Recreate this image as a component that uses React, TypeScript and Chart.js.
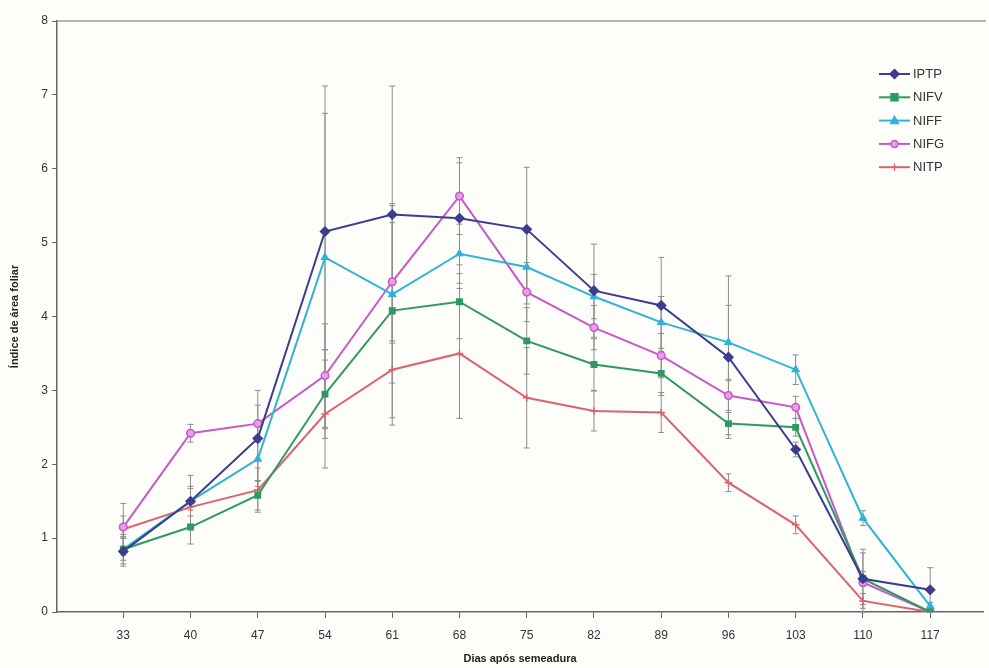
import React, { useEffect, useRef } from "react";
import { Chart, registerables } from "chart.js";

Chart.register(...registerables);

const days = [33, 40, 47, 54, 61, 68, 75, 82, 89, 96, 103, 110, 117];
const yTicks = [0, 1, 2, 3, 4, 5, 6, 7, 8];

const iptp = [0.82, 1.5, 2.35, 5.15, 5.38, 5.33, 5.18, 4.35, 4.15, 3.45, 2.2, 0.45, 0.3];
const iptpErr = [0.2, 0.2, 0.65, 1.6, 1.74, 0.75, 0.84, 0.63, 0.65, 1.1, 0.1, 0.35, 0.3];

const nifv = [0.85, 1.15, 1.58, 2.95, 4.08, 4.2, 3.67, 3.35, 3.23, 2.55, 2.5, 0.45, 0.0];
const nifvErr = [0.15, 0.23, 0.2, 0.6, 1.45, 0.5, 0.45, 0.35, 0.3, 0.15, 0.12, 0.1, 0.02];

const niff = [0.85, 1.5, 2.07, 4.8, 4.3, 4.85, 4.67, 4.27, 3.92, 3.65, 3.28, 1.27, 0.08];
const niffErr = [0.2, 0.35, 0.3, 2.32, 1.2, 0.4, 0.5, 0.3, 0.35, 0.5, 0.2, 0.1, 0.05];

const nifg = [1.15, 2.42, 2.55, 3.2, 4.47, 5.63, 4.33, 3.85, 3.47, 2.93, 2.77, 0.4, 0.0];
const nifgErr = [0.15, 0.12, 0.25, 0.7, 0.8, 0.52, 0.4, 0.3, 0.3, 0.2, 0.15, 0.45, 0.02];

const nitp = [1.12, 1.42, 1.65, 2.68, 3.28, 3.5, 2.9, 2.72, 2.7, 1.75, 1.18, 0.15, 0.0];
const nitpErr = [0.35, 0.25, 0.3, 0.73, 0.75, 0.88, 0.68, 0.27, 0.27, 0.12, 0.12, 0.1, 0.02];

const seriesNames = ["IPTP", "NIFV", "NIFF", "NIFG", "NITP"];
const seriesValues = [iptp, nifv, niff, nifg, nitp];
const seriesErrors = [iptpErr, nifvErr, niffErr, nifgErr, nitpErr];
const seriesColors = ["#3b3d8e", "#2f9a60", "#2fb3d6", "#c957c9", "#d9646c"];
const seriesFills = ["#3b3d8e", "#2f9a60", "#2fb3d6", "#e7a0e7", "#d9646c"];
const seriesPoints = ["rectRot", "rect", "triangle", "circle", "cross"];

const FONT = "'Liberation Sans', Arial, sans-serif";

function drawMarker(ctx: CanvasRenderingContext2D, style: string, x: number, y: number, r: number) {
  ctx.beginPath();
  if (style === "rectRot") {
    ctx.moveTo(x, y - r * 1.3);
    ctx.lineTo(x + r * 1.3, y);
    ctx.lineTo(x, y + r * 1.3);
    ctx.lineTo(x - r * 1.3, y);
    ctx.closePath();
    ctx.fill();
    ctx.stroke();
  } else if (style === "rect") {
    ctx.rect(x - r, y - r, 2 * r, 2 * r);
    ctx.fill();
    ctx.stroke();
  } else if (style === "triangle") {
    ctx.moveTo(x, y - r * 1.2);
    ctx.lineTo(x + r * 1.1, y + r * 0.8);
    ctx.lineTo(x - r * 1.1, y + r * 0.8);
    ctx.closePath();
    ctx.fill();
    ctx.stroke();
  } else if (style === "circle") {
    ctx.arc(x, y, r, 0, Math.PI * 2);
    ctx.fill();
    ctx.stroke();
  } else {
    ctx.moveTo(x - r, y);
    ctx.lineTo(x + r, y);
    ctx.moveTo(x, y - r);
    ctx.lineTo(x, y + r);
    ctx.stroke();
  }
}

const errorBarPlugin = {
  id: "errorBars",
  beforeDatasetsDraw(chart: any) {
    const ctx = chart.ctx;
    const yScale = chart.scales.y;
    ctx.save();
    ctx.strokeStyle = "#8d8d8d";
    ctx.lineWidth = 1;
    chart.data.datasets.forEach((ds: any, i: number) => {
      const meta = chart.getDatasetMeta(i);
      const errs = seriesErrors[i];
      meta.data.forEach((pt: any, j: number) => {
        const v = ds.data[j].y;
        const e = errs[j];
        const x = pt.x;
        const yT = yScale.getPixelForValue(v + e);
        const yB = yScale.getPixelForValue(Math.max(0, v - e));
        ctx.beginPath();
        ctx.moveTo(x, yT);
        ctx.lineTo(x, yB);
        ctx.moveTo(x - 3, yT);
        ctx.lineTo(x + 3, yT);
        ctx.moveTo(x - 3, yB);
        ctx.lineTo(x + 3, yB);
        ctx.stroke();
      });
    });
    ctx.restore();
  },
};

const frameLegendPlugin = {
  id: "frameLegend",
  afterDraw(chart: any) {
    const ctx = chart.ctx;
    const a = chart.chartArea;
    ctx.save();
    ctx.strokeStyle = "#9a9a9a";
    ctx.lineWidth = 1.5;
    ctx.beginPath();
    ctx.moveTo(a.left, a.top);
    ctx.lineTo(chart.width - 3, a.top);
    ctx.stroke();

    const x0 = 879;
    const y0 = 74;
    const gap = 23.3;
    chart.data.datasets.forEach((ds: any, i: number) => {
      const y = y0 + i * gap;
      ctx.strokeStyle = ds.borderColor;
      ctx.lineWidth = 2;
      ctx.beginPath();
      ctx.moveTo(x0, y);
      ctx.lineTo(x0 + 31, y);
      ctx.stroke();
      ctx.fillStyle = ds.pointBackgroundColor;
      ctx.strokeStyle = ds.borderColor;
      ctx.lineWidth = 1.5;
      drawMarker(ctx, seriesPoints[i], x0 + 15.5, y, 3.5);
      ctx.fillStyle = "#333";
      ctx.font = `13px ${FONT}`;
      ctx.textBaseline = "middle";
      ctx.textAlign = "left";
      ctx.fillText(ds.label, x0 + 34, y + 0.5);
    });
    ctx.restore();
  },
};

export default function App() {
  const ref = useRef<HTMLCanvasElement | null>(null);

  useEffect(() => {
    if (!ref.current) return;
    const datasets = seriesNames.map((name, i) => ({
      label: name,
      data: days.map((d, j) => ({ x: d, y: seriesValues[i][j] })),
      borderColor: seriesColors[i],
      backgroundColor: seriesFills[i],
      pointBackgroundColor: seriesFills[i],
      pointBorderColor: seriesColors[i],
      pointStyle: seriesPoints[i],
      pointRadius: seriesPoints[i] === "rectRot" ? 4.5 : 3.8,
      pointBorderWidth: 1.5,
      borderWidth: 2,
      tension: 0,
      fill: false,
    }));

    const chart = new Chart(ref.current, {
      type: "line",
      data: { datasets },
      plugins: [errorBarPlugin, frameLegendPlugin],
      options: {
        animation: false,
        responsive: false,
        maintainAspectRatio: false,
        layout: { padding: { top: 21, right: 4, bottom: 0, left: 0 } },
        plugins: {
          legend: { display: false },
          tooltip: { enabled: false },
        },
        scales: {
          x: {
            type: "linear",
            min: 26.1,
            max: 122.5,
            afterBuildTicks: (scale: any) => {
              scale.ticks = days.map((d) => ({ value: d }));
            },
            afterFit: (scale: any) => {
              scale.height = 56;
            },
            grid: {
              display: true,
              drawOnChartArea: false,
              drawTicks: true,
              tickLength: 6,
              color: "#666",
            },
            border: { display: true, color: "#666", width: 1.5 },
            ticks: {
              autoSkip: false,
              maxRotation: 0,
              padding: 10,
              color: "#333",
              font: { family: FONT, size: 12 },
              callback: (v: any) => String(v),
            },
            title: {
              display: true,
              text: "Dias após semeadura",
              color: "#222",
              font: { family: FONT, size: 11, weight: "bold" },
              padding: { top: 0, bottom: 2 },
            },
          },
          y: {
            min: 0,
            max: 8,
            afterBuildTicks: (scale: any) => {
              scale.ticks = yTicks.map((v) => ({ value: v }));
            },
            afterFit: (scale: any) => {
              scale.width = 57;
            },
            grid: {
              display: true,
              drawOnChartArea: false,
              drawTicks: true,
              tickLength: 5,
              color: "#666",
            },
            border: { display: true, color: "#666", width: 1.5 },
            ticks: {
              padding: 4,
              color: "#333",
              font: { family: FONT, size: 12 },
            },
            title: {
              display: true,
              text: "Índice de área foliar",
              color: "#222",
              font: { family: FONT, size: 11, weight: "bold" },
              padding: { top: 8, bottom: 0 },
            },
          },
        },
      } as any,
    });
    return () => chart.destroy();
  }, []);

  return (
    <div style={{ position: "absolute", left: 0, top: 0, width: 989, height: 668, background: "#fdfdfa" }}>
      <canvas ref={ref} width={989} height={668} style={{ width: 989, height: 668, display: "block" }} />
    </div>
  );
}
